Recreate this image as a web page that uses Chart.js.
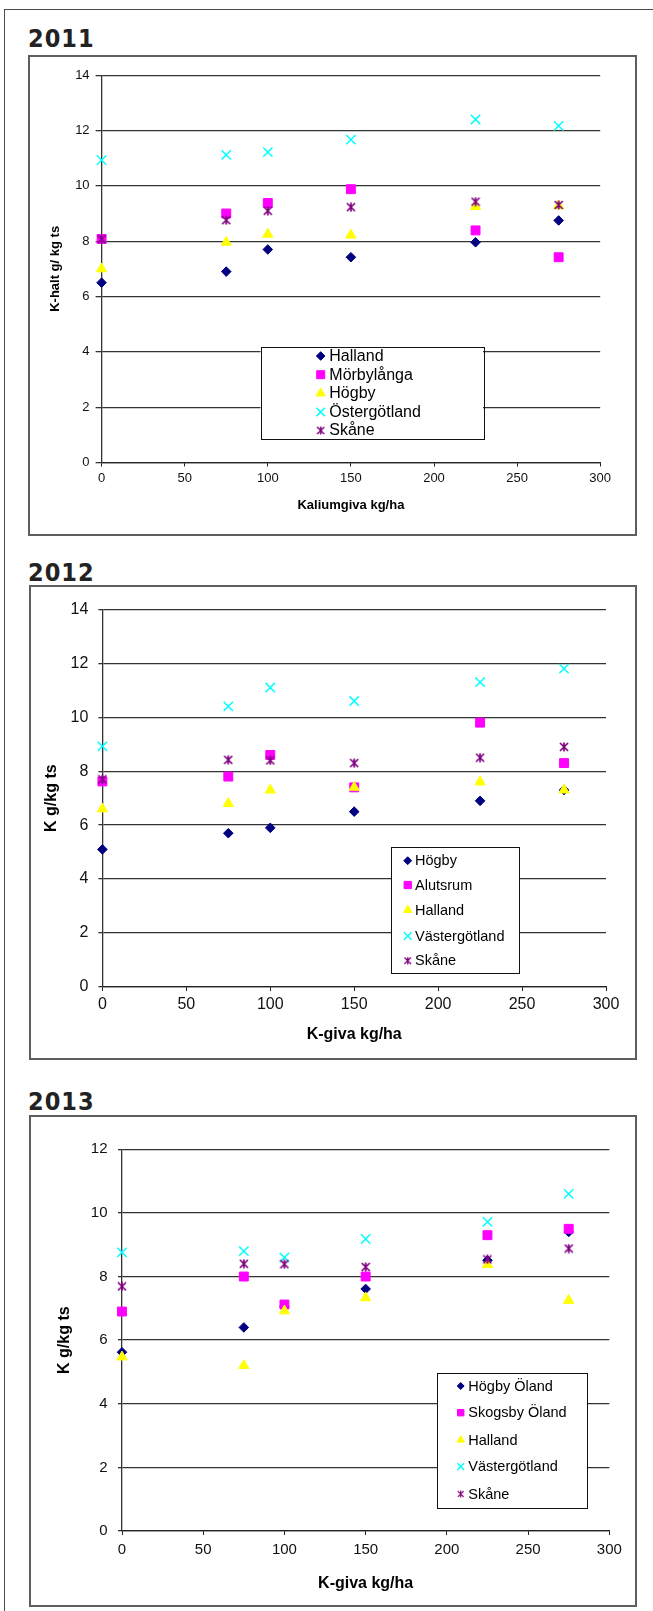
<!DOCTYPE html>
<html>
<head>
<meta charset="utf-8">
<title>Kaliumhalt 2011–2013</title>
<script src="https://cdn.jsdelivr.net/npm/chart.js@4.4.1/dist/chart.umd.min.js"></script>
<style>
  html, body { margin: 0; padding: 0; background: #fff; }
  body { width: 653px; height: 1611px; position: relative; overflow: hidden; }
  .page { position: absolute; left: 4px; top: 9px; width: 720px; height: 1720px;
          border-left: 1px solid #4a4a4a; border-top: 1px solid #4a4a4a; }
  .year { position: absolute; left: 28px; margin: 0; line-height: 1; color: #222;
          font: bold 25px 'Liberation Sans Narrow', 'DejaVu Sans Condensed', sans-serif;
          letter-spacing: 1px; }
  .frame { position: absolute; box-sizing: border-box; border: 2px solid #5e5e5e; }
  canvas { position: absolute; }
</style>
</head>
<body>
<div class="page"></div>

<div class="year" style="top:24px">2011</div>
<div class="frame" style="left:28px;top:55px;width:609px;height:481px"></div>
<canvas id="c2011"></canvas>

<div class="year" style="top:558px">2012</div>
<div class="frame" style="left:29px;top:585px;width:608px;height:475px"></div>
<canvas id="c2012"></canvas>

<div class="year" style="top:1087px">2013</div>
<div class="frame" style="left:29px;top:1115px;width:608px;height:492px"></div>
<canvas id="c2013"></canvas>

<script>
// ---------- data ----------
const doses = [0, 75, 100, 150, 225, 275];           // kg K/ha
const xTickValues = [0, 50, 100, 150, 200, 250, 300];
const yTicks14 = [0, 2, 4, 6, 8, 10, 12, 14];
const yTicks12 = [0, 2, 4, 6, 8, 10, 12];

const regions2011 = ['Halland', 'Mörbylånga', 'Högby', 'Östergötland', 'Skåne'];
const halland2011      = [6.5, 6.9, 7.7, 7.42, 7.96, 8.75];
const morbylanga2011   = [8.08, 9.0, 9.38, 9.88, 8.39, 7.42];
const hogby2011        = [7.0, 7.96, 8.25, 8.22, 9.25, 9.28];
const ostergotland2011 = [10.93, 11.12, 11.22, 11.67, 12.4, 12.17];
const skane2011        = [8.07, 8.76, 9.1, 9.23, 9.43, 9.31];

const regions2012 = ['Högby', 'Alutsrum', 'Halland', 'Västergötland', 'Skåne'];
const hogby2012         = [5.1, 5.7, 5.9, 6.5, 6.9, 7.3];
const alutsrum2012      = [7.62, 7.8, 8.6, 7.4, 9.8, 8.3];
const halland2012       = [6.6, 6.8, 7.3, 7.4, 7.6, 7.3];
const vastergotland2012 = [8.92, 10.4, 11.1, 10.6, 11.3, 11.8];
const skane2012         = [7.7, 8.42, 8.4, 8.3, 8.5, 8.9];

const regions2013 = ['Högby Öland', 'Skogsby Öland', 'Halland', 'Västergötland', 'Skåne'];
const hogbyOland2013    = [5.62, 6.4, 7.05, 7.61, 8.51, 9.4];
const skogsbyOland2013  = [6.9, 8.0, 7.12, 8.0, 9.3, 9.5];
const halland2013       = [5.47, 5.2, 6.92, 7.33, 8.38, 7.25];
const vastergotland2013 = [8.76, 8.8, 8.6, 9.18, 9.72, 10.6];
const skane2013         = [7.69, 8.4, 8.39, 8.3, 8.54, 8.88];

// ---------- marker styles (same shape sequence in every chart) ----------
function asteriskMarker(color, size) {
  const c = document.createElement('canvas');
  c.width = size; c.height = size;
  const g = c.getContext('2d');
  g.strokeStyle = color; g.lineWidth = 1.7;
  const a = 1, b = size - 1, m = size / 2;
  g.beginPath();
  g.moveTo(a, a); g.lineTo(b, b);
  g.moveTo(b, a); g.lineTo(a, b);
  g.moveTo(m, 0.5); g.lineTo(m, size - 0.5);
  g.stroke();
  return c;
}
const markers = [
  { style: 'rectRot',  color: '#000080', radius: 4.8, border: 1 },
  { style: 'rect',     color: '#FF00FF', radius: 6.3, border: 1 },
  { style: 'triangle', color: '#FFFF00', radius: 5.9, border: 1 },
  { style: 'crossRot', color: '#00FFFF', radius: 6.6, border: 1.5 },
  { style: asteriskMarker('#800080', 10), color: '#800080', radius: 5, border: 1 },
];

const FONT = "'Liberation Sans', Arial, Helvetica, sans-serif";

// ---------- legend drawn as a framed box inside the plot ----------
function drawMarker(ctx, ds, x, y, scale) {
  const st = ds.pointStyle;
  ctx.save();
  if (st instanceof HTMLCanvasElement) {
    const w = st.width * scale, h = st.height * scale;
    ctx.drawImage(st, x - w / 2, y - h / 2, w, h);
  } else {
    ctx.fillStyle = ds.backgroundColor;
    ctx.strokeStyle = ds.borderColor;
    ctx.lineWidth = ds.borderWidth;
    Chart.helpers.drawPoint(ctx, {
      pointStyle: st, radius: ds.pointRadius * scale, rotation: 0, borderWidth: ds.borderWidth
    }, x, y);
  }
  ctx.restore();
}

const boxLegend = {
  id: 'boxLegend',
  afterDraw(chart, args, o) {
    if (!o || !o.box) return;
    const ctx = chart.ctx;
    const [l, t, r, b] = o.box;
    ctx.save();
    ctx.fillStyle = '#fff';
    ctx.fillRect(l, t, r - l, b - t);
    ctx.strokeStyle = '#111';
    ctx.lineWidth = 1;
    ctx.strokeRect(Math.round(l) + 0.5, Math.round(t) + 0.5, Math.round(r - l), Math.round(b - t));
    ctx.font = o.fontSize + 'px ' + FONT;
    ctx.textBaseline = 'middle';
    ctx.textAlign = 'left';
    chart.data.datasets.forEach((ds, i) => {
      const y = o.rows[i];
      drawMarker(ctx, ds, o.markerX, y, o.markerScale);
      ctx.fillStyle = '#000';
      ctx.fillText(ds.label, o.textX, y + 0.5);
    });
    ctx.restore();
  }
};

function buildDatasets(names, series) {
  return names.map((name, i) => {
    const m = markers[i];
    return {
      label: name,
      data: doses.map((d, k) => ({ x: d, y: series[i][k] })),
      pointStyle: m.style,
      pointRadius: m.radius,
      backgroundColor: m.color,
      borderColor: m.color,
      borderWidth: m.border,
      order: names.length - i,   // later series are drawn on top
      clip: false
    };
  });
}

function makeChart(id, cfg) {
  const canvas = document.getElementById(id);
  const [cx, cy, cw, ch] = cfg.canvas;
  canvas.width = cw; canvas.height = ch;
  Object.assign(canvas.style, { left: cx + 'px', top: cy + 'px', width: cw + 'px', height: ch + 'px' });
  const p = cfg.plot;
  const yAxisWidth = p.left - cx;
  const xAxisHeight = cy + ch - p.bottom;
  const tickLH = cfg.tickFont * 1.2 / 2;
  const titleLH = cfg.titleFont * 1.2 / 2;

  const lg = cfg.legend;
  const legendOpts = {
    box: [lg.box[0] - cx, lg.box[1] - cy, lg.box[2] - cx, lg.box[3] - cy],
    rows: lg.rows.map(r => r - cy),
    markerX: lg.markerX - cx,
    textX: lg.textX - cx,
    fontSize: lg.fontSize,
    markerScale: lg.markerScale
  };

  return new Chart(canvas, {
    type: 'scatter',
    data: { datasets: buildDatasets(cfg.names, cfg.series) },
    plugins: [boxLegend],
    options: {
      responsive: false,
      animation: false,
      events: [],
      layout: { padding: { left: 0, bottom: 0, top: p.top - cy, right: cx + cw - p.right } },
      plugins: {
        legend: { display: false },
        tooltip: { enabled: false },
        boxLegend: legendOpts
      },
      scales: {
        x: {
          type: 'linear', min: 0, max: 300,
          afterBuildTicks: s => { s.ticks = xTickValues.map(v => ({ value: v })); },
          afterFit: s => { s.height = xAxisHeight; },
          grid: { drawOnChartArea: false, drawTicks: true, tickLength: 4, color: '#222', lineWidth: 1 },
          border: { display: true, color: '#222', width: 1.2 },
          ticks: {
            color: '#111', padding: cfg.xTickCenter - p.bottom - 4 - tickLH,
            font: { family: FONT, size: cfg.tickFont }, maxRotation: 0, autoSkip: false
          },
          title: {
            display: true, text: cfg.xTitle, color: '#000',
            font: { family: FONT, size: cfg.titleFont, weight: 'bold' },
            padding: { top: 0, bottom: cy + ch - cfg.xTitleCenter - titleLH }
          }
        },
        y: {
          type: 'linear', min: 0, max: cfg.yTicks[cfg.yTicks.length - 1],
          afterBuildTicks: s => { s.ticks = cfg.yTicks.map(v => ({ value: v })); },
          afterFit: s => { s.width = yAxisWidth; },
          grid: { color: '#333', lineWidth: 1.3, drawTicks: true, tickLength: cfg.yTickLen },
          border: { display: true, color: '#333', width: 1.3 },
          ticks: {
            color: '#111', padding: cfg.yTickPad,
            font: { family: FONT, size: cfg.tickFont }, autoSkip: false
          },
          title: {
            display: true, text: cfg.yTitle, color: '#000',
            font: { family: FONT, size: cfg.titleFont, weight: 'bold' },
            padding: { top: cfg.yTitleCenter - cx - titleLH, bottom: 0 }
          }
        }
      }
    }
  });
}

makeChart('c2011', {
  names: regions2011,
  series: [halland2011, morbylanga2011, hogby2011, ostergotland2011, skane2011],
  yTicks: yTicks14,
  canvas: [30, 57, 605, 477],
  plot: { left: 101.6, right: 600.2, top: 75.2, bottom: 462.5 },
  tickFont: 13, titleFont: 13,
  yTickLen: 6, yTickPad: 6,
  xTickCenter: 478.7,
  xTitle: 'Kaliumgiva kg/ha', xTitleCenter: 505.6,
  yTitle: 'K-halt g/ kg ts', yTitleCenter: 55.4,
  legend: { box: [260.5, 347.3, 483, 439.5], rows: [356, 374.7, 393.3, 411.9, 430.5],
            markerX: 320.7, textX: 329.3, fontSize: 16, markerScale: 0.9 }
});

makeChart('c2012', {
  names: regions2012,
  series: [hogby2012, alutsrum2012, halland2012, vastergotland2012, skane2012],
  yTicks: yTicks14,
  canvas: [31, 587, 604, 471],
  plot: { left: 102.4, right: 606, top: 609.3, bottom: 987 },
  tickFont: 16, titleFont: 16,
  yTickLen: 4, yTickPad: 10,
  xTickCenter: 1005,
  xTitle: 'K-giva kg/ha', xTitleCenter: 1035,
  yTitle: 'K g/kg ts', yTitleCenter: 52,
  legend: { box: [391, 847.3, 519.3, 973.3], rows: [860.7, 885, 910, 936, 960.7],
            markerX: 407.7, textX: 415, fontSize: 14.5, markerScale: 0.82 }
});

makeChart('c2013', {
  names: regions2013,
  series: [hogbyOland2013, skogsbyOland2013, halland2013, vastergotland2013, skane2013],
  yTicks: yTicks12,
  canvas: [31, 1117, 604, 488],
  plot: { left: 122, right: 609.3, top: 1149.3, bottom: 1531 },
  tickFont: 15, titleFont: 16,
  yTickLen: 4, yTickPad: 10.5,
  xTickCenter: 1549.5,
  xTitle: 'K-giva kg/ha', xTitleCenter: 1583.6,
  yTitle: 'K g/kg ts', yTitleCenter: 64.6,
  legend: { box: [437.3, 1372.7, 587.3, 1507.3], rows: [1386, 1412.7, 1440, 1466.7, 1494],
            markerX: 460.7, textX: 468.3, fontSize: 14.5, markerScale: 0.72 }
});
</script>
</body>
</html>
